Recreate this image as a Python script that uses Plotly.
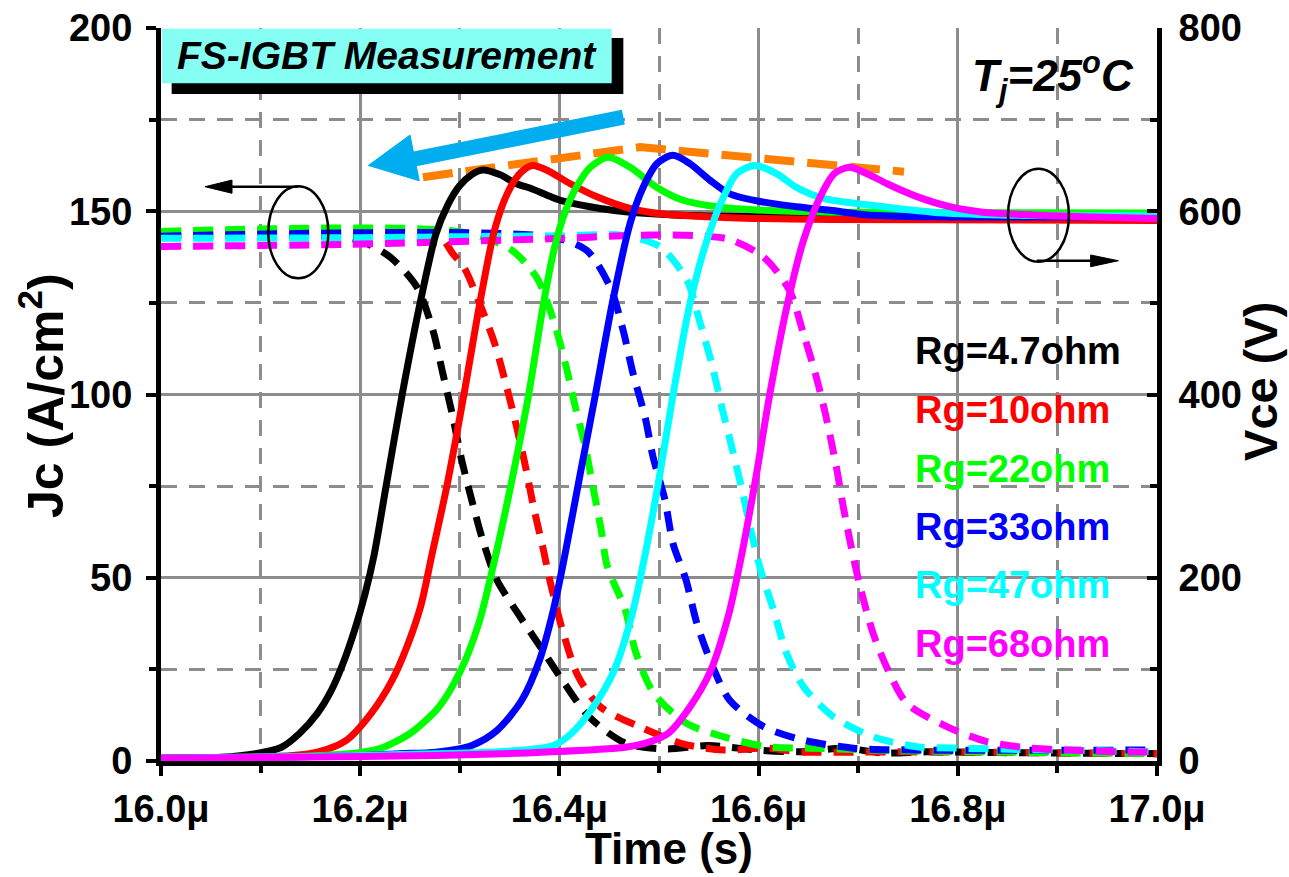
import plotly.graph_objects as go

FONT = "Arial, 'Liberation Sans', sans-serif"
LABELS = ["Rg=4.7ohm", "Rg=10ohm", "Rg=22ohm", "Rg=33ohm", "Rg=47ohm", "Rg=68ohm"]
COLORS = ["#000000", "#ff0000", "#00ff00", "#0000ff", "#00ffff", "#ff00ff"]

# ---- Vce (V), solid lines, right axis; time in microseconds ----
VCE_T_4_7 = [16.000, 16.060, 16.095, 16.121, 16.139, 16.157, 16.171, 16.184, 16.195, 16.205, 16.214, 16.226, 16.242, 16.260, 16.276, 16.288, 16.300, 16.312, 16.323, 16.340, 16.357, 16.371, 16.391, 16.404, 16.441, 16.471, 16.541, 16.642, 16.800, 17.000]
VCE_4_7 = [3, 4, 8, 15, 30, 52, 77, 110, 145, 183, 225, 300, 399, 499, 575, 607, 628, 640, 645, 640, 630, 625, 616, 611, 603, 599, 595, 594, 594, 594]

VCE_T_10 = [16.000, 16.080, 16.132, 16.157, 16.186, 16.211, 16.232, 16.247, 16.261, 16.272, 16.287, 16.304, 16.320, 16.335, 16.348, 16.361, 16.373, 16.387, 16.411, 16.437, 16.471, 16.504, 16.571, 16.672, 17.000]
VCE_10 = [3, 4, 6, 9.6, 22.5, 52, 88, 125, 170, 225, 300, 399, 499, 580, 620, 642, 650, 645, 630, 616, 603, 597, 593, 591, 590]

VCE_T_22 = [16.000, 16.120, 16.160, 16.189, 16.218, 16.250, 16.279, 16.301, 16.319, 16.334, 16.353, 16.369, 16.384, 16.395, 16.406, 16.418, 16.431, 16.449, 16.471, 16.498, 16.524, 16.558, 16.605, 16.672, 17.000]
VCE_22 = [3, 4, 6, 8, 13, 30, 59, 99, 150, 215, 310, 399, 499, 560, 600, 628, 648, 659, 648, 626, 612, 605, 601, 599, 598]

VCE_T_33 = [16.000, 16.100, 16.204, 16.240, 16.276, 16.312, 16.337, 16.362, 16.380, 16.394, 16.405, 16.421, 16.436, 16.453, 16.471, 16.484, 16.498, 16.514, 16.531, 16.551, 16.571, 16.605, 16.638, 16.672, 16.709, 16.775, 17.000]
VCE_33 = [3, 4, 6, 8, 9.6, 17, 33, 66, 110, 165, 222, 314, 399, 499, 587, 626, 652, 661, 652, 634, 619, 610, 605, 601, 596, 594, 594]

VCE_T_47 = [16.000, 16.150, 16.240, 16.347, 16.394, 16.412, 16.434, 16.455, 16.473, 16.486, 16.501, 16.514, 16.531, 16.548, 16.565, 16.578, 16.596, 16.618, 16.638, 16.665, 16.709, 16.775, 16.842, 17.000]
VCE_47 = [3, 5, 7, 10.7, 17, 30, 59, 99, 160, 225, 314, 399, 499, 568, 616, 641, 650, 641, 626, 614, 607, 599, 596, 595]

VCE_T_68 = [16.000, 16.132, 16.275, 16.383, 16.466, 16.491, 16.509, 16.531, 16.552, 16.570, 16.583, 16.598, 16.611, 16.629, 16.645, 16.662, 16.676, 16.691, 16.709, 16.729, 16.759, 16.792, 16.825, 16.876, 17.000]
VCE_68 = [3, 4, 6, 9.6, 15, 21, 30, 59, 99, 160, 225, 314, 399, 499, 568, 616, 641, 648, 641, 630, 616, 605, 599, 596, 592]

# ---- Jc (A/cm2), dashed lines, left axis ----
JC_T_4_7 = [16.000, 16.100, 16.170, 16.200, 16.230, 16.257, 16.273, 16.283, 16.293, 16.302, 16.312, 16.323, 16.337, 16.358, 16.383, 16.405, 16.430, 16.466, 16.506, 16.549, 16.598, 16.642, 16.685, 16.725, 16.769, 16.842, 17.000]
JC_4_7 = [143.5, 143.5, 143.2, 142, 137.5, 129.3, 117.5, 105.7, 93.9, 82, 71.2, 60.3, 49.5, 40.4, 30.3, 21.2, 12, 4.9, 3.3, 4.2, 3, 2.5, 3.5, 2.2, 2.5, 2.3, 2]

JC_T_10 = [16.000, 16.240, 16.280, 16.293, 16.304, 16.320, 16.335, 16.347, 16.357, 16.366, 16.374, 16.384, 16.391, 16.403, 16.419, 16.441, 16.481, 16.524, 16.565, 16.608, 16.642, 16.750, 17.000]
JC_10 = [144.3, 144.2, 143, 138.4, 134.8, 124.8, 113.9, 102.1, 91.2, 80.3, 69.4, 57.5, 48.6, 35.8, 23, 14.8, 9.3, 4.7, 3, 3.5, 2.5, 2.5, 2]

JC_T_22 = [16.000, 16.300, 16.350, 16.377, 16.394, 16.406, 16.416, 16.426, 16.434, 16.442, 16.448, 16.466, 16.477, 16.495, 16.528, 16.565, 16.608, 16.652, 16.742, 17.000]
JC_22 = [144.5, 144.4, 139.8, 132, 120.3, 108.4, 96.6, 85.7, 74.4, 63, 53.2, 41.3, 29.4, 18.4, 10.2, 6.6, 3.9, 3.5, 2.8, 2]

JC_T_33 = [16.000, 16.390, 16.427, 16.451, 16.464, 16.474, 16.486, 16.494, 16.506, 16.514, 16.527, 16.538, 16.554, 16.571, 16.605, 16.645, 16.695, 16.755, 17.000]
JC_33 = [143.2, 143, 139.4, 129.3, 117.5, 105.7, 93.9, 83, 71.2, 59.4, 49.5, 37.6, 25.7, 16.6, 9.4, 5.7, 3.5, 3, 3]

JC_T_47 = [16.000, 16.200, 16.400, 16.464, 16.501, 16.528, 16.541, 16.553, 16.563, 16.573, 16.583, 16.593, 16.603, 16.615, 16.628, 16.645, 16.675, 16.715, 16.759, 16.802, 17.000]
JC_47 = [142.6, 142.8, 143.3, 143.4, 140.3, 131.2, 119.8, 108.4, 96.6, 85.7, 74.4, 62, 51.2, 41.2, 29.4, 20.3, 12.1, 6.6, 3.9, 3.5, 2.5]

JC_T_68 = [16.000, 16.190, 16.390, 16.490, 16.541, 16.571, 16.605, 16.631, 16.645, 16.657, 16.667, 16.678, 16.685, 16.693, 16.702, 16.715, 16.730, 16.749, 16.789, 16.829, 16.873, 16.909, 16.959, 17.000]
JC_68 = [140.4, 141, 142.5, 143.5, 143.3, 142.3, 137.5, 128.4, 116.6, 105.7, 94.8, 80.3, 69.4, 58.4, 47.5, 34.8, 24.8, 15.7, 9.4, 5.3, 3.5, 3, 2.5, 2.5]

# peak trend (orange dashed), left-axis units
TREND_T = [16.263, 16.481, 16.746]
TREND_J = [159.3, 167.5, 160.8]

# axes
X_TICKS = [16.0, 16.2, 16.4, 16.6, 16.8, 17.0]
X_TICKTEXT = ["16.0\u03bc", "16.2\u03bc", "16.4\u03bc", "16.6\u03bc", "16.8\u03bc", "17.0\u03bc"]
X_MINOR = [16.1, 16.3, 16.5, 16.7, 16.9]
YL_TICKS = [0, 50, 100, 150, 200]
YL_MINOR = [25, 75, 125, 175]
YR_TICKS = [0, 200, 400, 600, 800]
YR_MINOR = [100, 300, 500, 700]

# label / decoration positions (data units)
LEGEND_X = 16.755
LEGEND_Y = [111.8, 95.7, 79.6, 63.8, 48.0, 32.0]

VCE_T = [VCE_T_4_7, VCE_T_10, VCE_T_22, VCE_T_33, VCE_T_47, VCE_T_68]
VCE = [VCE_4_7, VCE_10, VCE_22, VCE_33, VCE_47, VCE_68]
JC_T = [JC_T_4_7, JC_T_10, JC_T_22, JC_T_33, JC_T_47, JC_T_68]
JC = [JC_4_7, JC_10, JC_22, JC_33, JC_47, JC_68]

fig = go.Figure()

for t, j, c, lab in zip(JC_T, JC, COLORS, LABELS):
    fig.add_trace(go.Scatter(x=t, y=j, mode="lines", name=lab + " Jc",
                             line=dict(color=c, width=7, dash="20px,12px", shape="spline", smoothing=0.8),
                             yaxis="y", showlegend=False))
for t, v, c, lab in zip(VCE_T, VCE, COLORS, LABELS):
    fig.add_trace(go.Scatter(x=t, y=v, mode="lines", name=lab + " Vce",
                             line=dict(color=c, width=7, shape="spline", smoothing=0.8),
                             yaxis="y2", showlegend=False))
fig.add_trace(go.Scatter(x=TREND_T, y=TREND_J, mode="lines", yaxis="y",
                         line=dict(color="#ff8000", width=8, dash="30px,13px"), showlegend=False))

GRID = "#8c8c8c"
tickfont = dict(family=FONT, size=38, color="black", weight="bold")

fig.update_layout(
    width=1289, height=877,
    margin=dict(l=161, r=132, t=28, b=116, autoexpand=False),
    plot_bgcolor="white", paper_bgcolor="white",
    showlegend=False,
    xaxis=dict(range=[16.0, 17.0], tickmode="array", tickvals=X_TICKS, ticktext=X_TICKTEXT,
               ticks="outside", ticklen=10, tickwidth=4, tickcolor="black",
               showline=True, linewidth=5, linecolor="black", zeroline=False,
               showgrid=True, gridcolor=GRID, gridwidth=2.5,
               minor=dict(tickvals=X_MINOR, ticks="outside", ticklen=7, tickwidth=4, tickcolor="black",
                          showgrid=True, gridcolor=GRID, gridwidth=2.5, griddash="16px,12px"),
               tickfont=tickfont),
    xaxis2=dict(range=[16.0, 17.0], overlaying="x", side="top", anchor="y",
                tickmode="array", tickvals=X_TICKS, showticklabels=False,
                ticks="inside", ticklen=10, tickwidth=4, tickcolor="black",
                showline=True, linewidth=5, linecolor="black", showgrid=False, zeroline=False,
                minor=dict(tickvals=X_MINOR, ticks="inside", ticklen=7, tickwidth=4, tickcolor="black")),
    yaxis=dict(range=[0, 200], tickmode="array", tickvals=YL_TICKS,
               ticks="outside", ticklen=10, tickwidth=4, tickcolor="black",
               showline=True, linewidth=5, linecolor="black", zeroline=False,
               showgrid=True, gridcolor=GRID, gridwidth=2.5,
               minor=dict(tickvals=YL_MINOR, ticks="outside", ticklen=7, tickwidth=4, tickcolor="black",
                          showgrid=True, gridcolor=GRID, gridwidth=2.5, griddash="16px,12px"),
               tickfont=tickfont, ticklabelstandoff=6),
    yaxis2=dict(range=[0, 800], overlaying="y", side="right", anchor="x",
                tickmode="array", tickvals=YR_TICKS,
                ticks="inside", ticklen=10, tickwidth=4, tickcolor="black",
                showline=True, linewidth=5, linecolor="black", zeroline=False, showgrid=False,
                minor=dict(tickvals=YR_MINOR, ticks="inside", ticklen=7, tickwidth=4, tickcolor="black"),
                tickfont=tickfont, ticklabelstandoff=9),
)

# axis titles
fig.add_annotation(xref="paper", yref="paper", x=0.51, y=-0.119, xanchor="center", yanchor="middle",
                   text="Time (s)", showarrow=False,
                   font=dict(family=FONT, size=44, color="black", weight="bold"))
fig.add_annotation(xref="paper", yref="paper", x=-0.1195, y=0.4993, xanchor="center", yanchor="middle",
                   text="Jc (A/cm<sup>2</sup>)", showarrow=False, textangle=-90,
                   font=dict(family=FONT, size=50, color="black", weight="bold"))
fig.add_annotation(xref="paper", yref="paper", x=1.104, y=0.518, xanchor="center", yanchor="middle",
                   text="Vce (V)", showarrow=False, textangle=-90,
                   font=dict(family=FONT, size=47, color="black", weight="bold"))

# legend-like labels
for lab, c, y in zip(LABELS, COLORS, LEGEND_Y):
    fig.add_annotation(x=LEGEND_X, y=y, xref="x", yref="y", text=lab, showarrow=False,
                       xanchor="left", yanchor="middle",
                       font=dict(family=FONT, size=38, color=c, weight="bold"))

# title box with shadow
fig.add_shape(type="rect", xref="paper", yref="paper", x0=0.0107, x1=0.4642, y0=0.910, y1=0.9864,
              fillcolor="black", line=dict(width=0), layer="above")
fig.add_shape(type="rect", xref="paper", yref="paper", x0=0.001, x1=0.4525, y0=0.9246, y1=0.999,
              fillcolor="#85fff4", line=dict(width=0), layer="above")
fig.add_annotation(xref="paper", yref="paper", x=0.014, y=0.962, xanchor="left", yanchor="middle",
                   text="FS-IGBT Measurement", showarrow=False,
                   font=dict(family=FONT, size=39, color="black", weight="bold", style="italic"))

# Tj annotation
fig.add_annotation(xref="paper", yref="paper", x=0.979, y=0.934, xanchor="right", yanchor="middle",
                   text="T<sub>j</sub>=25<sup>o</sup>C", showarrow=False,
                   font=dict(family=FONT, size=44, color="black", weight="bold", style="italic"))

# big blue arrow
ARROW_BLUE = "#00aeef"
fig.add_shape(type="line", xref="x", yref="y", x0=16.250, y0=164.0, x1=16.4642, y1=175.7,
              line=dict(color=ARROW_BLUE, width=15), layer="above")
fig.add_shape(type="path", xref="x", yref="y",
              path="M 16.2082 162.5 L 16.2500 170.8 L 16.2593 158.3 Z",
              fillcolor=ARROW_BLUE, line=dict(color=ARROW_BLUE, width=1), layer="above")

# ellipses with small arrows
fig.add_shape(type="circle", xref="x", yref="y", x0=16.1077, x1=16.1680, y0=131.7, y1=156.8,
              line=dict(color="black", width=2.5), layer="above")
fig.add_shape(type="line", xref="x", yref="y", x0=16.1379, y0=156.7, x1=16.0650, y1=156.7,
              line=dict(color="black", width=2.5), layer="above")
fig.add_shape(type="path", xref="x", yref="y",
              path="M 16.0442 156.7 L 16.0713 158.5 L 16.0713 154.9 Z",
              fillcolor="black", line=dict(color="black", width=1), layer="above")

fig.add_shape(type="circle", xref="x", yref="y", x0=16.8504, x1=16.9116, y0=136.2, y1=161.6,
              line=dict(color="black", width=2.5), layer="above")
fig.add_shape(type="line", xref="x", yref="y", x0=16.8793, y0=136.5, x1=16.9400, y1=136.5,
              line=dict(color="black", width=2.5), layer="above")
fig.add_shape(type="path", xref="x", yref="y",
              path="M 16.9612 136.5 L 16.9334 138.06 L 16.9334 134.87 Z",
              fillcolor="black", line=dict(color="black", width=1), layer="above")

fig.write_html("out.html")
